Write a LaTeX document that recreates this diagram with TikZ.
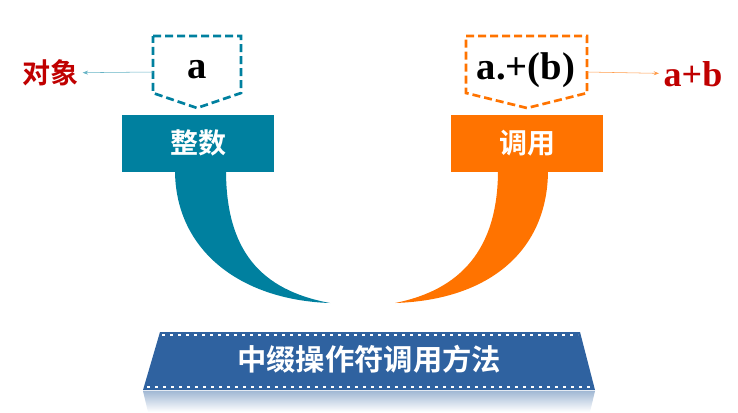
\documentclass[tikz,border=0pt]{standalone}
\usepackage{fontspec}
\newfontfamily\cjk{Noto Sans CJK SC}[BoldFont={Noto Sans CJK SC Bold}]
\newfontfamily\tms{Liberation Serif}
\usetikzlibrary{arrows.meta}
\definecolor{teal1}{HTML}{00809F}
\definecolor{orng}{HTML}{FF7300}
\definecolor{redt}{HTML}{C00000}
\definecolor{blu}{HTML}{2F62A0}
\begin{document}
\begin{tikzpicture}[x=0.75pt,y=-0.75pt,
  lbl/.style={font=\cjk\bfseries\fontsize{21}{21}\selectfont,text=white},
  var/.style={font=\tms\bfseries\fontsize{29}{29}\selectfont},
  conn/.style={-{Stealth[length=4pt]},line width=0.4pt}]
\useasboundingbox (0,0) rectangle (738,412);
% teal
\draw[teal1,line width=2pt,dash pattern=on 6pt off 3pt] (153,36)--(241,36)--(241,93)--(197,108)--(153,93)--cycle;
\node[var] (a) at (197,70) {a};
\coordinate (al) at (153,72);
\fill[teal1] (175,170) .. controls (175,250) and (240,300) .. (330,303) .. controls (260,290) and (226,250) .. (226,170) -- cycle;
\fill[teal1] (122,115) rectangle (274,172);
\node[lbl] (zs) at (198,143) {整数};
\node[font=\cjk\bfseries\fontsize{21}{21}\selectfont,text=redt] (dx) at (50,73) {对象};
\draw[conn,teal1!60] (al) -- (dx);
% orange
\draw[orng,line width=2pt,dash pattern=on 6pt off 3pt] (466,36)--(587,36)--(587,93)--(527,108)--(466,93)--cycle;
\node[var] (ab) at (526,70) {a.+(b)};
\coordinate (ar) at (587,72);
\fill[orng] (548,170) .. controls (548,250) and (490,300) .. (395,303) .. controls (460,290) and (498,250) .. (498,170) -- cycle;
\fill[orng] (451,115) rectangle (603,172);
\node[lbl] (dy) at (527,143) {调用};
\node[font=\tms\bfseries\fontsize{27}{27}\selectfont,text=redt] (apb) at (693,74) {a+b};
\draw[conn,orng!70] (ar) -- (apb);
% banner
\shade[top color=blu!45,bottom color=white] (143,391) -- (595,391) -- (590,412) -- (148,412) -- cycle;
\fill[blu] (160,332) -- (580,332) -- (595,390) -- (143,390) -- cycle;
\draw[white,line width=1pt,dash pattern=on 2pt off 4pt] (162,335) -- (578,335);
\draw[white,line width=1pt,dash pattern=on 2pt off 4pt] (147,387) -- (591,387);
\node[lbl,font=\cjk\bfseries\fontsize{22}{22}\selectfont] (bn) at (369,359) {中缀操作符调用方法};
\end{tikzpicture}
\end{document}
